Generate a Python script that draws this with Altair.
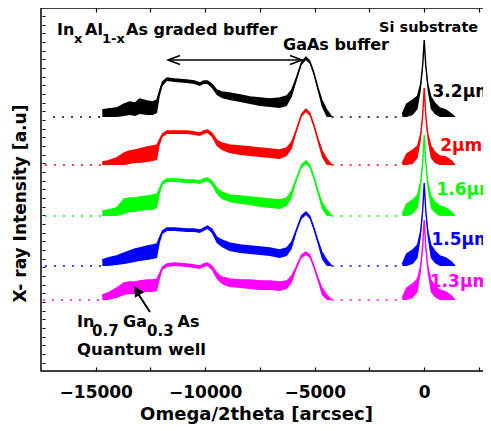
import altair as alt
import pandas as pd

# ---------------- data ----------------
# omega/2theta positions (arcsec) of the sampled points
X_ARCSEC = [-14700, -14450, -14050, -13700, -13450, -13200, -13000, -12650, -12400, -12200,
            -12075, -11950, -11750, -11400, -10850, -10500, -10250, -10075, -9900, -9700,
            -9475, -9250, -8900, -8400, -7950, -7500, -7050, -6600, -6275, -6050,
            -5825, -5600, -5400, -5225, -5050, -4850, -4675, -4450, -4225,
            -1000, -800, -525, -300, -160, -70, 0, 70, 160, 300,
            480, 710, 980, 1250, 1400]
SPLIT = -2000  # the trace is broken (zero counts) between the GaAs and Si peaks

SERIES = ["3.2µm", "2µm", "1.6µm", "1.5µm", "1.3µm"]
COLORS = ["#000000", "#ff0000", "#00ff00", "#0000ff", "#ff00ff"]
OFFSETS = [254, 206, 155, 105, 71]          # vertical offset of each trace (a.u.)
TRACE_START = [-16950, -17320, -17320, -17320, -17410]

# upper envelope of each trace (log intensity above its own baseline, a.u.)
HI = {
    "3.2µm": [7, 8, 9, 13, 15, 14, 18, 16, 15, 17,
              27, 35, 39, 38, 37, 36, 34, 36, 36, 33,
              27, 25, 24, 22, 20, 19, 18, 19, 21, 27,
              40, 55, 60, 56, 45, 29, 17, 7, 0,
              3, 13, 17, 21, 33, 52, 77, 52, 33, 20,
              14, 9, 7, 3, 0],
    "2µm": [3, 4, 7, 12, 14, 15, 16, 18, 19, 20,
            26, 31, 34, 34, 34, 33, 32, 34, 35, 32,
            25, 22, 20, 19, 18, 17, 16, 15, 17, 23,
            36, 51, 56, 52, 41, 26, 15, 6, 0,
            2, 11, 15, 19, 31, 50, 77, 50, 31, 19,
            13, 9, 8, 4, 0],
    "1.6µm": [5, 6, 8, 17, 18, 18, 19, 20, 21, 22,
              28, 34, 37, 37, 36, 36, 35, 37, 38, 35,
              28, 24, 21, 20, 19, 18, 17, 16, 18, 25,
              38, 51, 55, 51, 40, 25, 14, 6, 0,
              2, 12, 16, 21, 34, 54, 81, 54, 34, 20,
              14, 10, 8, 4, 0],
    "1.5µm": [6, 8, 10, 13, 15, 17, 18, 20, 21, 22,
              29, 35, 38, 38, 37, 37, 36, 38, 40, 37,
              29, 26, 23, 21, 20, 19, 18, 16, 18, 24,
              37, 50, 54, 50, 39, 25, 14, 6, 0,
              2, 12, 16, 21, 35, 56, 83, 56, 35, 21,
              15, 10, 8, 4, 0],
    "1.3µm": [5, 7, 12, 17, 18, 18, 19, 20, 20, 21,
              27, 33, 36, 37, 36, 35, 34, 36, 37, 34,
              27, 23, 21, 20, 20, 19, 19, 18, 19, 24,
              34, 45, 48, 45, 35, 22, 12, 5, 0,
              2, 12, 16, 21, 34, 54, 80, 54, 34, 20,
              14, 10, 8, 4, 0],
}
# lower edge of the dense noise band
LO = {
    "3.2µm": [0, 0, 0, 1, 2, 1, 3, 2, 2, 4,
              21, 31, 36, 35, 34, 33, 31, 33, 33, 29,
              22, 19, 17, 15, 13, 11, 10, 9, 11, 20,
              36, 52, 57, 53, 42, 25, 10, 0, 0,
              0, 0, 2, 8, 26, 48, 72, 48, 26, 8,
              3, 0, 0, 0, 0],
    "2µm": [0, 0, 0, 0, 1, 2, 2, 3, 4, 5,
            20, 28, 31, 31, 31, 30, 29, 31, 32, 28,
            19, 15, 12, 10, 9, 8, 7, 6, 9, 16,
            33, 48, 53, 49, 38, 22, 8, 0, 0,
            0, 0, 1, 7, 24, 46, 72, 46, 24, 7,
            2, 0, 0, 0, 0],
    "1.6µm": [0, 0, 0, 2, 4, 4, 5, 6, 6, 8,
              22, 31, 34, 34, 33, 33, 32, 34, 35, 31,
              22, 17, 14, 12, 11, 9, 8, 7, 10, 18,
              35, 48, 52, 48, 37, 21, 7, 0, 0,
              0, 0, 2, 8, 27, 50, 76, 50, 27, 8,
              3, 0, 0, 0, 0],
    "1.5µm": [0, 0, 1, 2, 3, 4, 5, 6, 7, 8,
              23, 32, 35, 35, 34, 34, 33, 35, 37, 33,
              23, 19, 15, 13, 12, 11, 10, 8, 10, 17,
              34, 47, 51, 47, 36, 21, 7, 0, 0,
              0, 0, 2, 8, 28, 52, 78, 52, 28, 8,
              3, 0, 0, 0, 0],
    "1.3µm": [0, 0, 2, 5, 6, 6, 7, 8, 8, 9,
              21, 30, 33, 34, 33, 32, 31, 33, 34, 30,
              21, 16, 13, 12, 11, 10, 10, 9, 11, 17,
              31, 42, 45, 42, 32, 18, 5, 0, 0,
              0, 0, 2, 8, 27, 50, 75, 50, 27, 8,
              3, 0, 0, 0, 0],
}

LABEL_X = [380, 730, 560, 330, 255]
LABEL_Y = [274, 220, 176, 126, 84]

X_TICKS = [-15000, -12500, -10000, -7500, -5000, -2500, 0, 2500]
Y_TICKS = [8, 17, 26, 34, 43, 52, 60, 69, 78, 86, 95, 104, 112, 121, 130, 138, 147, 156,
           164, 173, 182, 190, 199, 208, 216, 225, 234, 242, 251, 260, 268, 277, 286,
           294, 303, 312, 320, 329, 338, 346, 355]

# annotation text pieces: text, x (arcsec), y (a.u.), font size
ANN_TEXT = ["In", "x", "Al", "1-x", "As graded buffer", "GaAs buffer", "Si substrate",
            "In", "0.7", "Ga", "0.3", "As", "Quantum well"]
ANN_X = [-16769, -15993, -15490, -14714, -13618, -6448, -2060,
         -15856, -15171, -13755, -12659, -11266, -15856]
ANN_Y = [336, 328, 336, 328, 336, 321, 339,
         44, 35, 44, 35, 44, 16]
ANN_SIZE = [16, 13, 16, 13, 16, 16, 14.5,
            16, 15, 16, 15, 16, 16.5]

# ---------------- build tables ----------------
xs = alt.Scale(domain=[-17500, 3050], nice=False, zero=False)
ys = alt.Scale(domain=[0, 363], nice=False, zero=False)

bottom_axis = alt.Axis(orient="bottom", values=X_TICKS, format="d",
                       labelExpr="datum.value % 5000 === 0 ? datum.label : ''",
                       offset=-4, tickSize=4, domain=False, grid=False,
                       labelPadding=13, labelFontSize=17, labelOverlap=False,
                       labelFont="DejaVu Sans", labelFontWeight="bold", labelColor="black",
                       tickColor="black", tickWidth=1.2,
                       title="Omega/2theta [arcsec]", titleFont="DejaVu Sans",
                       titleFontWeight="bold", titleFontSize=18, titleColor="black",
                       titleX=215, titleY=52, titleBaseline="alphabetic", titleAlign="center")
top_axis = alt.Axis(orient="top", values=X_TICKS, labels=False, offset=-4, tickSize=4,
                    domain=False, grid=False, title="", tickColor="black", tickWidth=1.2)
left_axis = alt.Axis(orient="left", values=Y_TICKS, labels=False, offset=-4, tickSize=3,
                     domain=False, grid=False, tickColor="black", tickWidth=1,
                     title="X- ray Intensity [a.u]", titleFont="DejaVu Sans",
                     titleFontWeight="bold", titleFontSize=17, titleColor="black",
                     titleX=-25, titleY=195, titleAngle=270, titleBaseline="middle",
                     titleAlign="center")

layers = []
for i, name in enumerate(SERIES):
    off = OFFSETS[i]
    df = pd.DataFrame({
        "x": X_ARCSEC,
        "hi": [off + v for v in HI[name]],
        "lo": [off + v for v in LO[name]],
        "seg": [1 if v < SPLIT else 2 for v in X_ARCSEC],
    })
    base = pd.DataFrame({
        "x1": [TRACE_START[i], -4225],
        "x2": [-14700, -1000],
        "y": [off, off],
    })
    first = i == 0
    area = alt.Chart(df).mark_area(color=COLORS[i], opacity=1).encode(
        x=alt.X("x:Q", scale=xs, axis=bottom_axis if first else None),
        y=alt.Y("lo:Q", scale=ys, stack=False, axis=left_axis if first else None),
        y2="hi:Q",
        detail="seg:N",
    )
    line = alt.Chart(df).mark_line(color=COLORS[i], strokeWidth=1.4).encode(
        x=alt.X("x:Q", scale=xs, axis=top_axis if first else None),
        y=alt.Y("hi:Q", scale=ys, axis=None),
        detail="seg:N",
    )
    dots = alt.Chart(base).mark_rule(color=COLORS[i], strokeWidth=1.6,
                                     strokeDash=[2, 7]).encode(
        x=alt.X("x1:Q", scale=xs, axis=None),
        x2="x2:Q",
        y=alt.Y("y:Q", scale=ys, axis=None),
    )
    layers += [dots, area, line]

lab_df = pd.DataFrame({"t": SERIES, "x": LABEL_X, "y": LABEL_Y, "c": COLORS})
labels = alt.Chart(lab_df).mark_text(align="left", baseline="alphabetic",
                                     font="DejaVu Sans", fontWeight="bold",
                                     fontSize=17).encode(
    x=alt.X("x:Q", scale=xs, axis=None),
    y=alt.Y("y:Q", scale=ys, axis=None),
    text="t:N",
    color=alt.Color("c:N", scale=None),
)

ann_df = pd.DataFrame({"t": ANN_TEXT, "x": ANN_X, "y": ANN_Y, "s": ANN_SIZE})
ann = alt.Chart(ann_df).mark_text(align="left", baseline="alphabetic",
                                  font="DejaVu Sans", fontWeight="bold",
                                  color="black").encode(
    x=alt.X("x:Q", scale=xs, axis=None),
    y=alt.Y("y:Q", scale=ys, axis=None),
    text="t:N",
    size=alt.Size("s:Q", scale=None),
)

# double-headed arrow spanning the graded buffer
arrow_df = pd.DataFrame({"x1": [-11700], "x2": [-5581], "y": [311]})
arrow_line = alt.Chart(arrow_df).mark_rule(color="black", strokeWidth=1.4).encode(
    x=alt.X("x1:Q", scale=xs, axis=None), x2="x2:Q",
    y=alt.Y("y:Q", scale=ys, axis=None),
)
head_l = alt.Chart(arrow_df).mark_point(shape="M4,-1.5L0,0L4,1.5", size=36, filled=False,
                                        color="black", strokeWidth=1.5, opacity=1).encode(
    x=alt.X("x1:Q", scale=xs, axis=None), y=alt.Y("y:Q", scale=ys, axis=None))
head_r = alt.Chart(arrow_df).mark_point(shape="M-4,-1.5L0,0L-4,1.5", size=36, filled=False,
                                        color="black", strokeWidth=1.5, opacity=1).encode(
    x=alt.X("x2:Q", scale=xs, axis=None), y=alt.Y("y:Q", scale=ys, axis=None))

# arrow pointing at the InGaAs quantum well feature
qw_df = pd.DataFrame({"x1": [-12522], "y1": [59], "x2": [-13150], "y2": [80], "xt": [-13253], "yt": [85]})
qw_line = alt.Chart(qw_df).mark_rule(color="black", strokeWidth=2).encode(
    x=alt.X("x1:Q", scale=xs, axis=None), x2="x2:Q",
    y=alt.Y("y1:Q", scale=ys, axis=None), y2="y2:Q",
)
qw_head = alt.Chart(qw_df).mark_point(shape="M0,0L2.85,1.78L0.29,3.35Z", size=49, filled=True,
                                      color="black", opacity=1).encode(
    x=alt.X("xt:Q", scale=xs, axis=None), y=alt.Y("yt:Q", scale=ys, axis=None))

layers += [labels, ann, arrow_line, head_l, head_r, qw_line, qw_head]

chart = alt.layer(*layers).resolve_scale(x="shared", y="shared").resolve_axis(
    x="independent", y="independent"
).properties(
    width=450, height=363,
    padding={"left": 33, "top": 0, "right": -8, "bottom": 55},
    autosize=alt.AutoSizeParams(type="none"),
    background="white",
).configure_view(stroke="black", strokeWidth=1.5)

chart.save("out.html", embed_options={"renderer": "svg", "actions": False})
